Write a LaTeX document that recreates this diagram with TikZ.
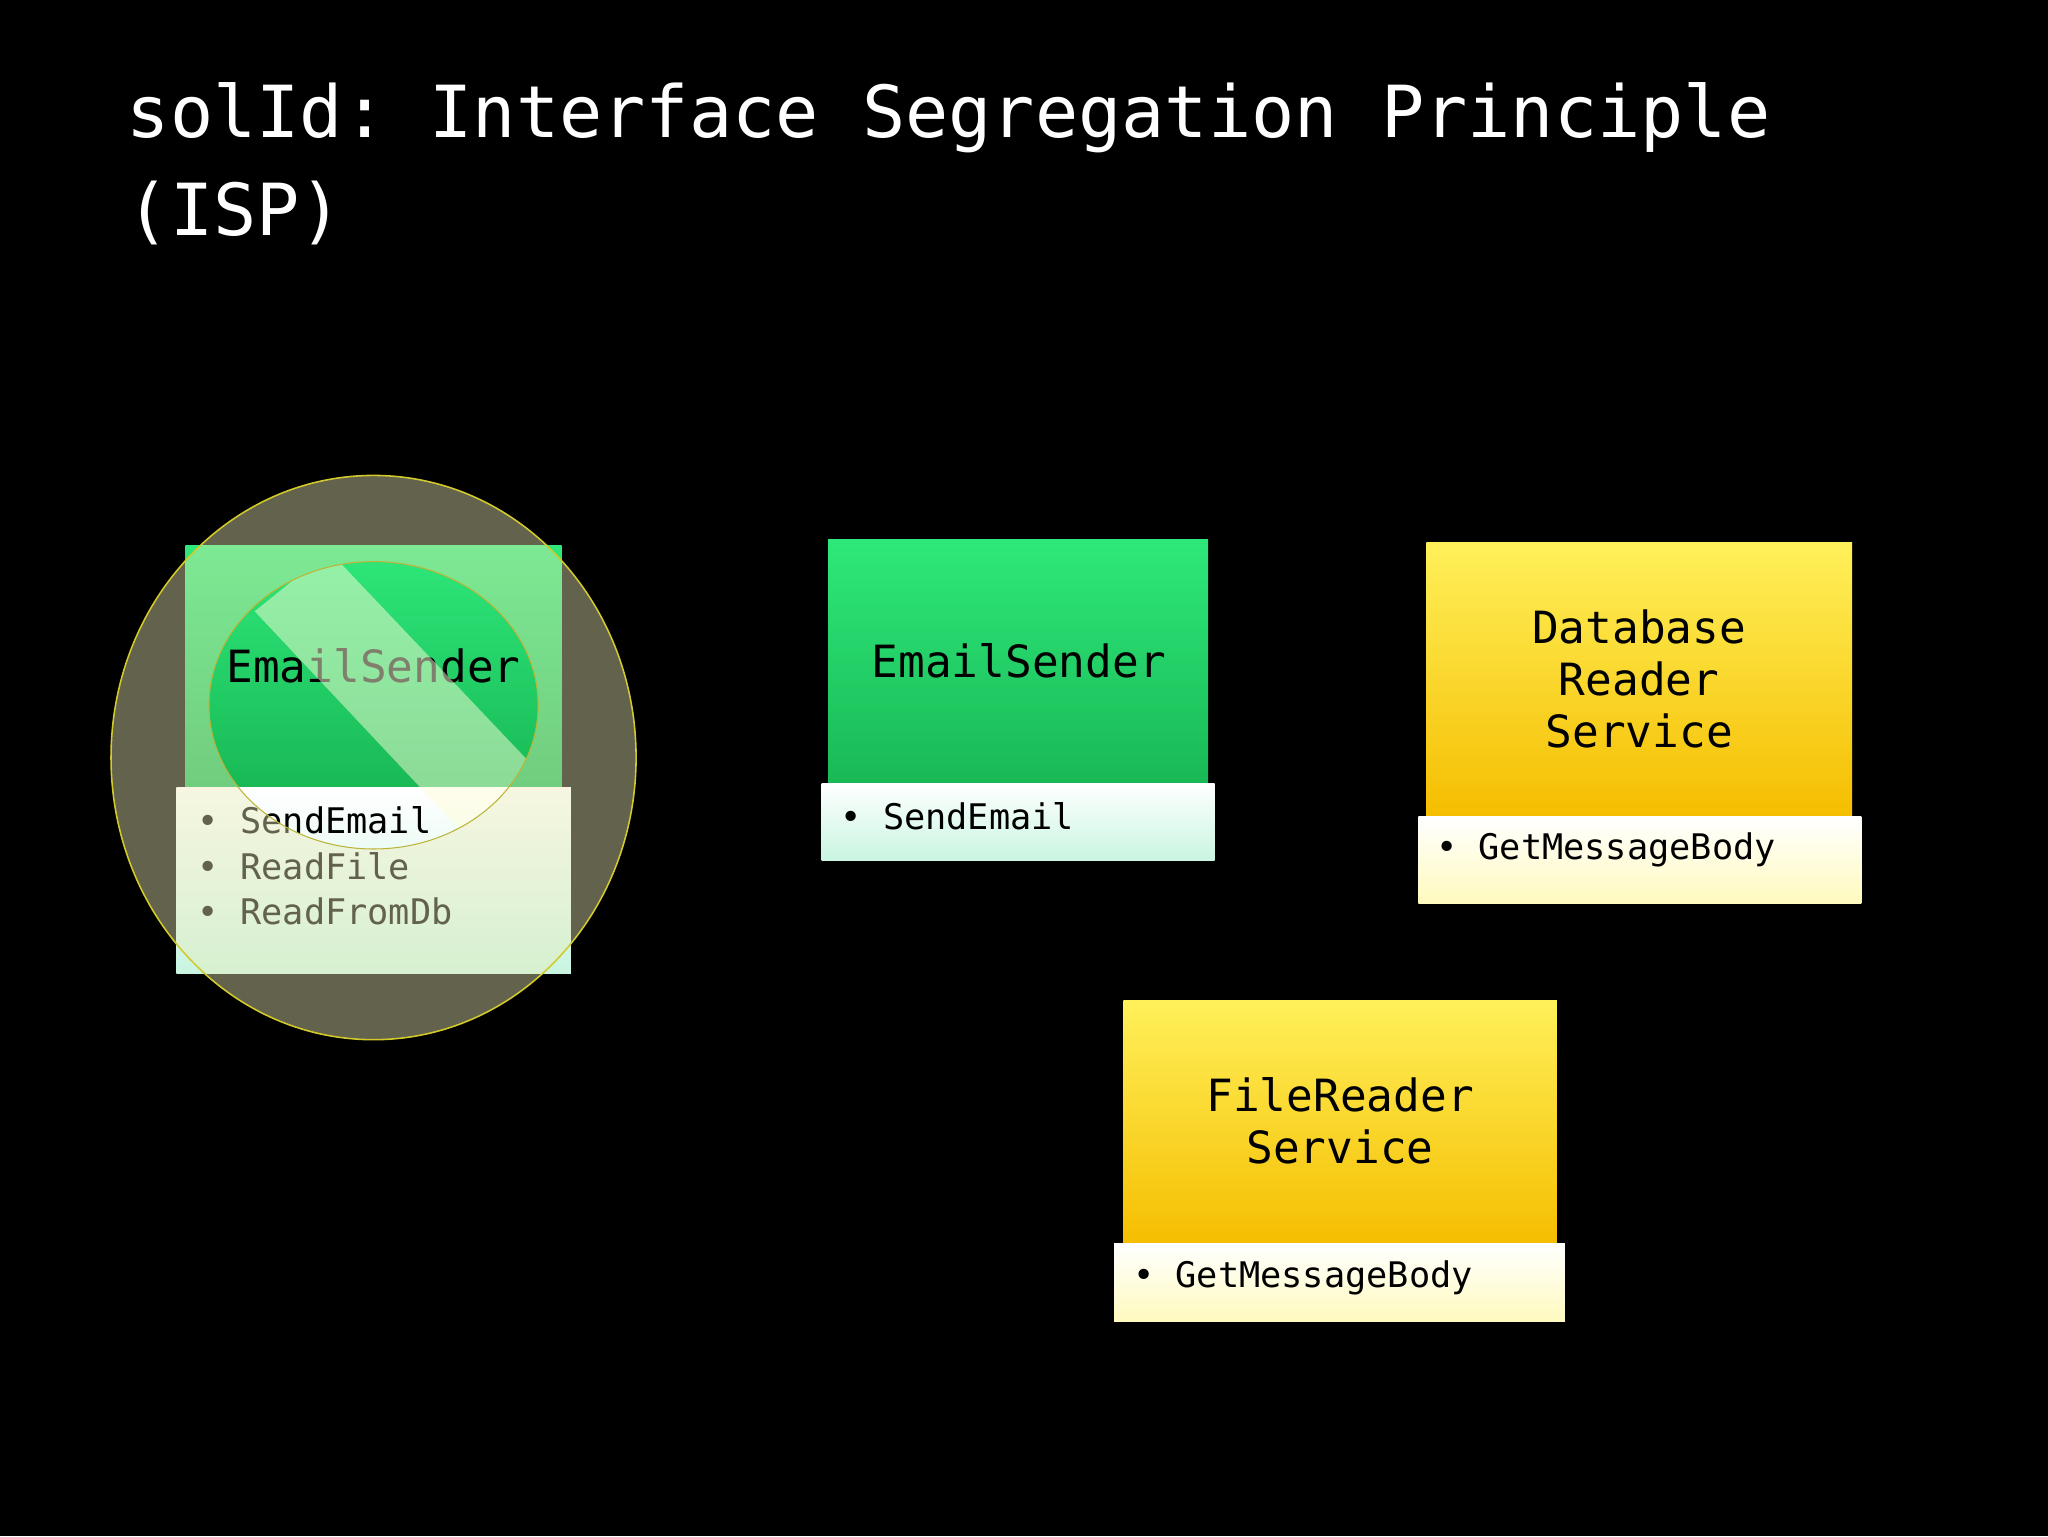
\documentclass[tikz,border=0pt]{standalone}
\usepackage{fontspec}
\setmonofont{DejaVu Sans Mono}
\begin{document}
\begin{tikzpicture}[x=1pt,y=-1pt,
  greenhead/.style={top color={rgb,255:red,46;green,232;blue,122}, bottom color={rgb,255:red,25;green,185;blue,85}},
  yellowhead/.style={top color={rgb,255:red,255;green,240;blue,90}, bottom color={rgb,255:red,245;green,190;blue,0}},
  greenfoot/.style={top color=white, bottom color={rgb,255:red,200;green,245;blue,225}},
  yellowfoot/.style={top color=white, bottom color={rgb,255:red,255;green,250;blue,190}},
  ttl/.style={text=black, font=\ttfamily\fontsize{34}{40}\selectfont, align=center},
  itm/.style={text=black, font=\ttfamily\fontsize{27}{32}\selectfont, anchor=west}]
\fill[black] (0,0) rectangle (1568,1176);
\useasboundingbox (0,0) rectangle (1568,1176);
\node[anchor=base west, text=white, font=\ttfamily\fontsize{55}{70}\selectfont, inner sep=0] (title) at (97,105) {solId: Interface Segregation Principle};
\node[anchor=base west, text=white, font=\ttfamily\fontsize{55}{70}\selectfont, inner sep=0] (title2) at (97,180) {(ISP)};
% left box
\fill[greenhead] (142,418) rectangle (430,603);
\fill[greenfoot] (135,603) rectangle (437,745);
\node[ttl] (l1) at (286,510) {EmailSender};
\node[itm] (l2) at (148,628) {• SendEmail};
\node[itm] (l3) at (148,663) {• ReadFile};
\node[itm] (l4) at (148,698) {• ReadFromDb};
% prohibition overlay
\fill[even odd rule, fill={rgb,255:red,235;green,235;blue,185}, fill opacity=0.42]
  (286,580) ellipse [x radius=201, y radius=216] (286,540) ellipse [x radius=126, y radius=110];
\draw[yellow!80!black, line width=1.2pt] (286,580) ellipse [x radius=201, y radius=216];
\begin{scope}
\clip (286,540) ellipse [x radius=126, y radius=110];
\fill[white!85!yellow, fill opacity=0.5] (195,468) -- (252,422) -- (440,620) -- (383,668) -- cycle;
\end{scope}
\draw[yellow!70!black, line width=0.8pt] (286,540) ellipse [x radius=126, y radius=110];
% middle
\fill[greenhead] (634,413) rectangle (925,600);
\fill[greenfoot] (629,600) rectangle (930,659);
\node[ttl] (m1) at (780,506) {EmailSender};
\node[itm] (m2) at (640,625) {• SendEmail};
% right
\fill[yellowhead] (1092,415) rectangle (1418,625);
\fill[yellowfoot] (1086,625) rectangle (1425,692);
\node[ttl] (r1) at (1255,520) {Database\\Reader\\Service};
\node[itm] (r2) at (1096,651) {• GetMessageBody};
% bottom
\fill[yellowhead] (860,766) rectangle (1192,952);
\fill[yellowfoot] (853,952) rectangle (1198,1012);
\node[ttl] (b1) at (1026,858) {FileReader\\Service};
\node[itm] (b2) at (864,978) {• GetMessageBody};
\end{tikzpicture}
\end{document}
